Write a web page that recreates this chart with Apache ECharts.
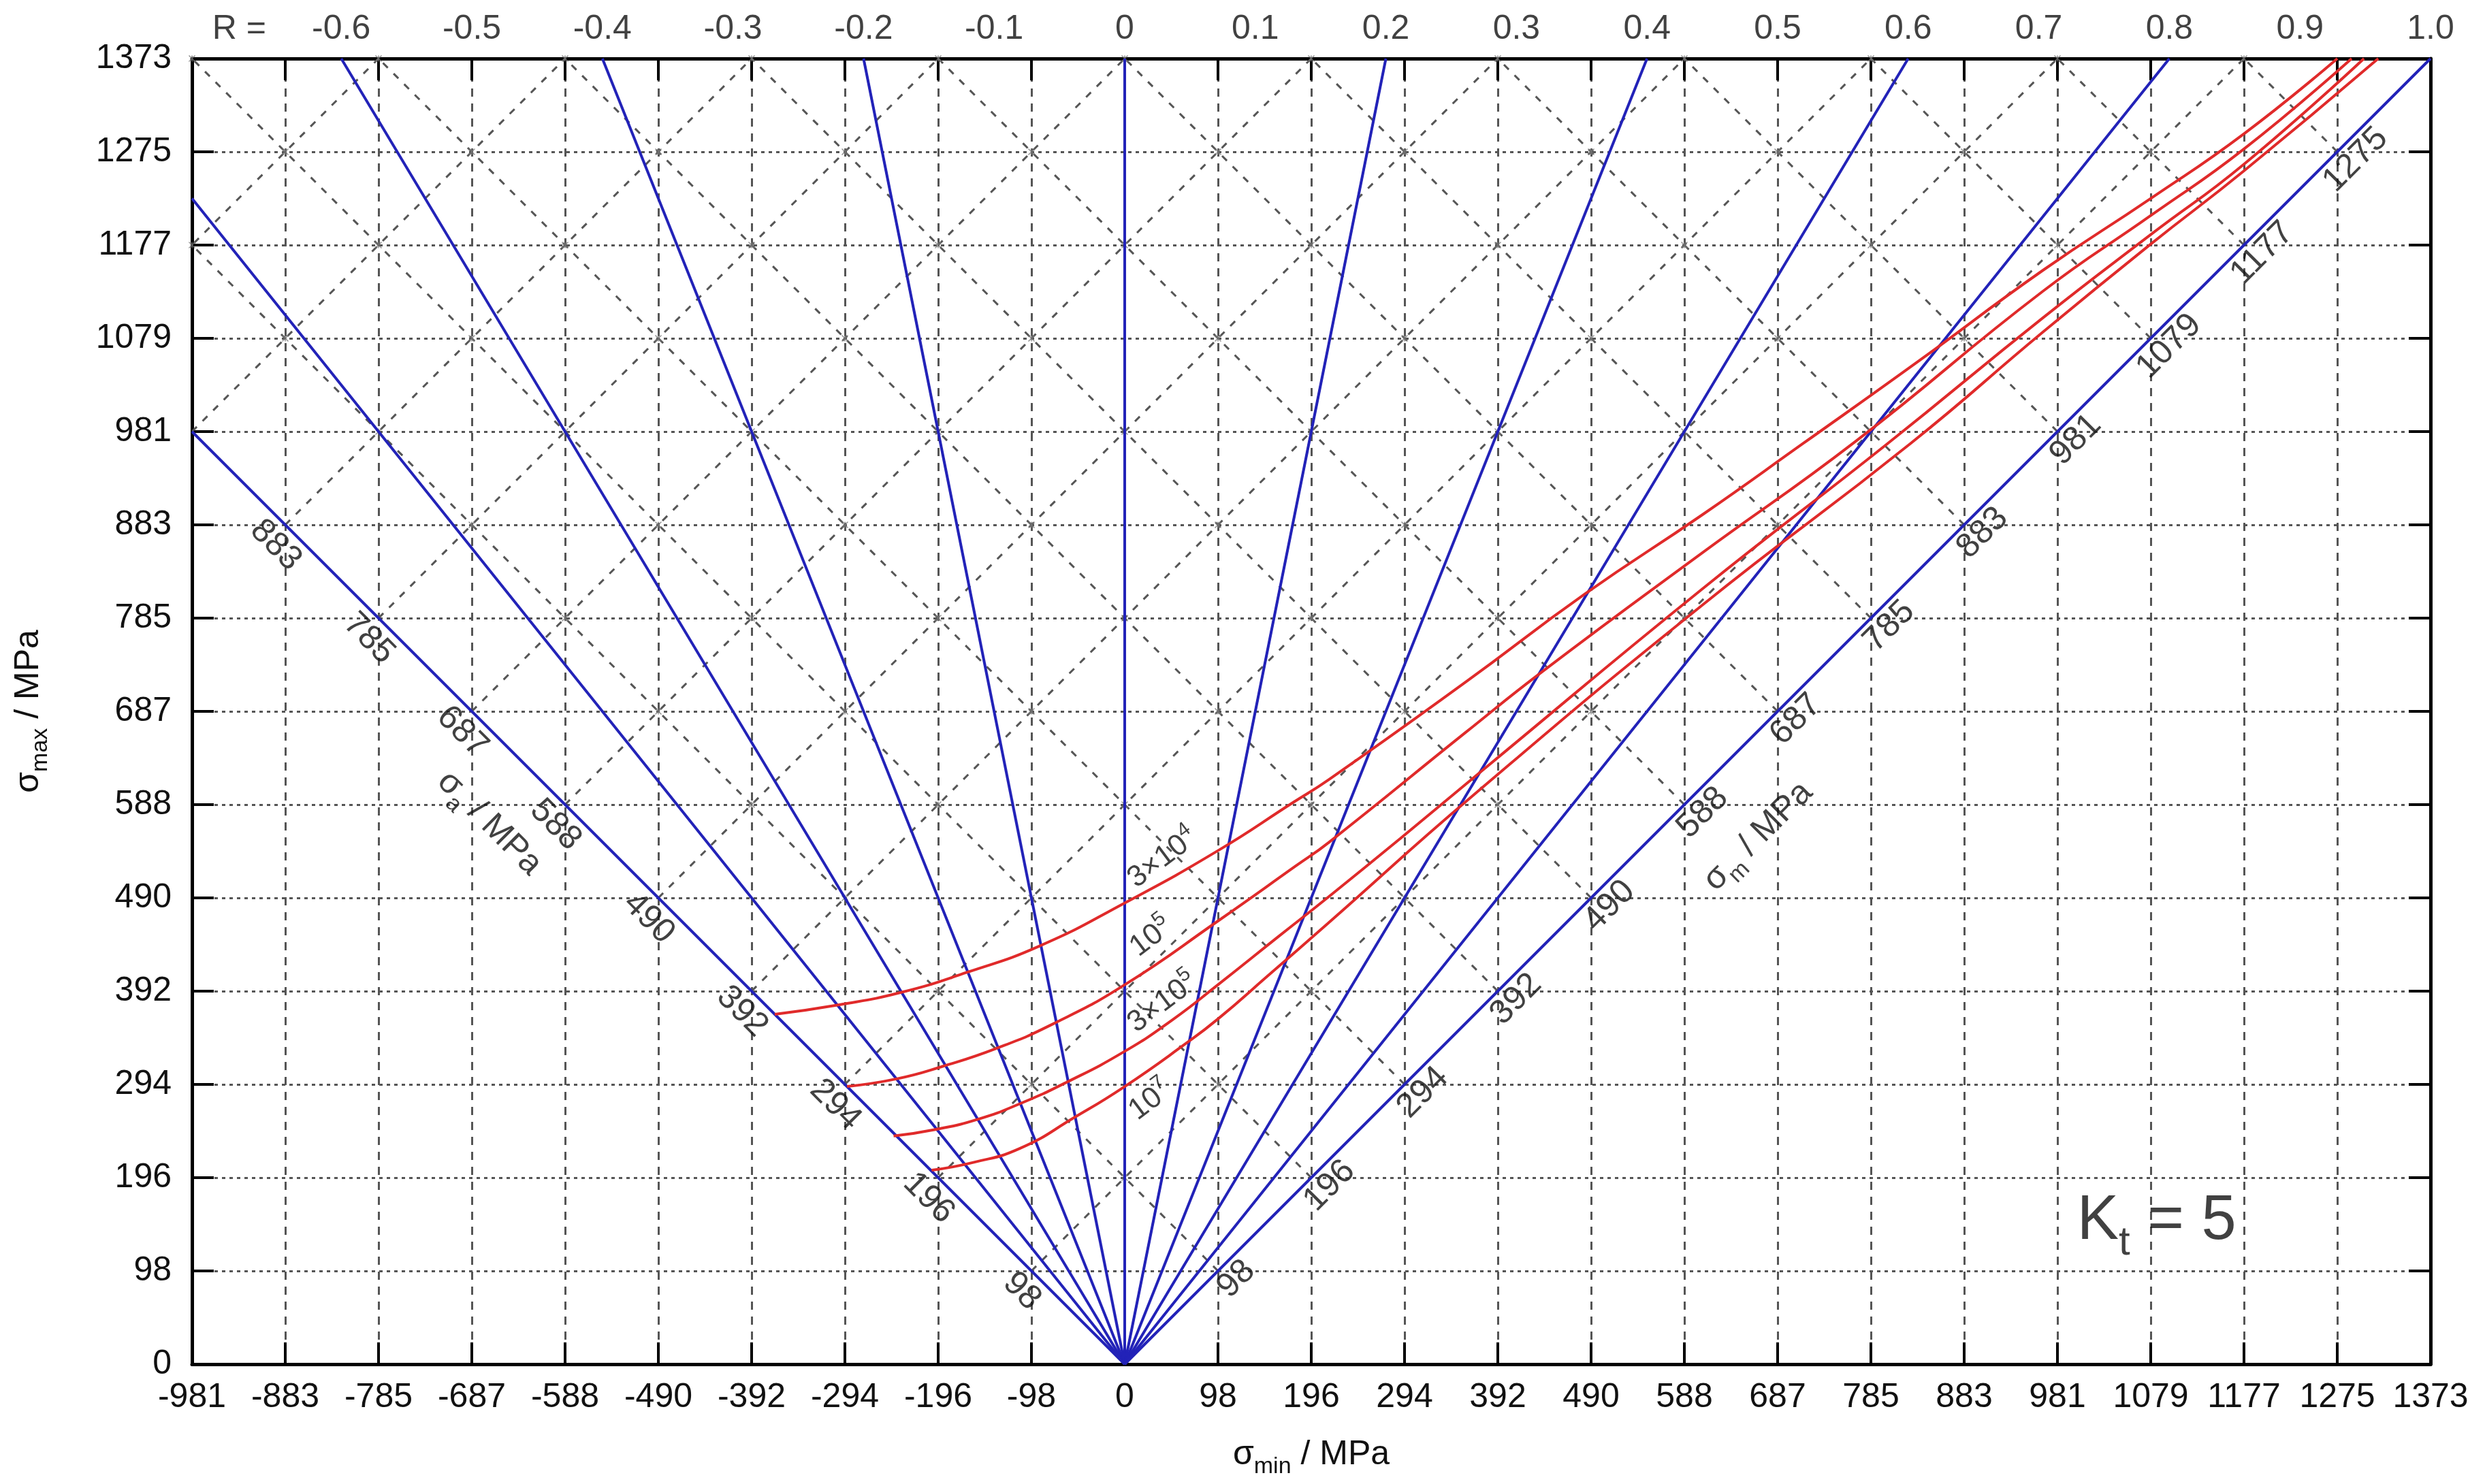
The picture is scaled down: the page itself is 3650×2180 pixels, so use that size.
<!DOCTYPE html>
<html><head><meta charset="utf-8">
<script src="https://cdn.jsdelivr.net/npm/echarts@6/dist/echarts.min.js"></script>
<style>html,body{margin:0;padding:0;background:#fff}#c{width:3650px;height:2180px}</style>
</head><body><div id="c"></div>
<script>
// ---------- data ----------
const STEP = 98.07;
const xTickLabels = ['-981','-883','-785','-687','-588','-490','-392','-294','-196','-98','0','98','196','294','392','490','588','687','785','883','981','1079','1177','1275','1373'];
const yTickLabels = ['0','98','196','294','392','490','588','687','785','883','981','1079','1177','1275','1373'];
const rLines = [-1, -0.8, -0.6, -0.4, -0.2, 0, 0.2, 0.4, 0.6, 0.8, 1.0];
const rTopValues = [-0.6,-0.5,-0.4,-0.3,-0.2,-0.1,0,0.1,0.2,0.3,0.4,0.5,0.6,0.7,0.8,0.9,1.0];
const rTopLabels = ['-0.6','-0.5','-0.4','-0.3','-0.2','-0.1','0','0.1','0.2','0.3','0.4','0.5','0.6','0.7','0.8','0.9','1.0'];
const saLabels = ['98','196','294','392','490','588','687','785','883'];
const smLabels = ['98','196','294','392','490','588','687','785','883','981','1079','1177','1275'];
const curveLabels = ['{b|3×10}{p|4}', '{b|10}{p|5}', '{b|3×10}{p|5}', '{b|10}{p|7}'];
// constant-life curves  [sigma_min, sigma_max]
const n3e4 = [[-368,368],[-300,378],[-235,391],[-166,412],[-89,440],[0,485],[98,540],[176,590],[215,615],[358,717],[484,810],[607,893],[713,968],[835,1055],[965,1150],[1079,1226],[1177,1294],[1275,1373]];
const n1e5 = [[-292,292],[-240,300],[-192,313],[-135,332],[-75,358],[0,399],[98,466],[180,524],[215,549],[358,664],[440,729],[607,853],[768,970],[965,1128],[1079,1208],[1177,1278],[1290,1373]];
const n3e5 = [[-243,240],[-198,247],[-153,258],[-110,274],[-62,296],[0,329],[50,362],[98,399],[162,450],[215,492],[290,553],[378,626],[607,815],[802,968],[965,1100],[1079,1188],[1177,1262],[1303,1373]];
const n1e7 = [[-203,204],[-160,212],[-110,227],[-52,260],[0,292],[64,337],[98,363],[150,408],[213,463],[365,597],[607,798],[826,968],[965,1085],[1079,1178],[1177,1255],[1318,1373]];
const ktText = '{k|K}{t|t}{k| = 5}';

// ---------- layout / style ----------
const S = STEP, XMIN = -10*S, XMAX = 14*S, YMAX = 14*S;
const F = "'Liberation Sans', Arial, Helvetica, sans-serif";
const TXT = '#111';
const richSub = {
  s: {fontSize: 50, lineHeight: 70, fontFamily: F, color: TXT},
  sub: {fontSize: 34, lineHeight: 34, verticalAlign: 'bottom', fontFamily: F, color: TXT}
};
const PX = 1/1.397; // data units per pixel (equal aspect)

function rEnd(R){ const xt = R*YMAX; return (xt >= XMIN) ? [xt, YMAX] : [XMIN, XMIN/R]; }

const series = [];
const dashDiag = {color:'#555', width:3, type:[10,12]};
for (let k = 1; k <= 12; k++) {
  series.push({type:'line', data:[[-k*S, k*S],[YMAX-2*k*S, YMAX]], symbol:'none', silent:true, lineStyle:dashDiag, z:1});
}
for (let m = 1; m <= 13; m++) {
  series.push({type:'line', data:[[m*S, m*S],[2*m*S-YMAX, YMAX]], symbol:'none', silent:true, lineStyle:dashDiag, z:1});
}
// intersection markers
const pts = [];
for (let i = -10; i <= 14; i++) for (let j = 1; j <= 14; j++) {
  if ((i + j) % 2 === 0 && j > Math.abs(i)) pts.push([i*S, j*S]);
}
series.push({type:'scatter', data:pts, symbol:'path://M0,0L10,10M10,0L0,10M5,0L5,10', symbolSize:9,
  itemStyle:{color:'none', borderColor:'#777', borderWidth:1.5}, silent:true, z:2});

rLines.forEach(R => series.push({type:'line', data:[[0,0], rEnd(R)], symbol:'none', silent:true,
  lineStyle:{color:'#2222b8', width:4}, z:3}));

[n3e4, n1e5, n3e5, n1e7].forEach(d => series.push({type:'line', data:d, symbol:'none', smooth:0.5, silent:true,
  lineStyle:{color:'#e02a2a', width:4}, z:4}));

function labelSeries(items, label){
  return {type:'scatter', data:items, symbolSize:1, itemStyle:{color:'rgba(0,0,0,0)'}, clip:false, silent:true, z:6,
    label:Object.assign({show:true, position:'inside', formatter:'{b}', color:TXT, fontFamily:F, fontSize:50}, label)};
}
// sigma_a labels along R=-1
series.push(labelSeries(saLabels.map((t,i)=>{const k=i+1; return {name:t, value:[-k*S-14*PX, k*S-30*PX]};}), {rotate:-45}));
// sigma_m labels along R=1
series.push(labelSeries(smLabels.map((t,i)=>{const m=i+1; return {name:t, value:[m*S+27*PX, m*S-12*PX]};}), {rotate:45}));
// titles along diagonals
series.push(labelSeries([{name:'sa', value:[-668,569]}], {rotate:-45, formatter:'{s|σ}{sub|a}{s| / MPa}', rich:richSub}));
series.push(labelSeries([{name:'sm', value:[666,555]}], {rotate:45, formatter:'{s|σ}{sub|m}{s| / MPa}', rich:richSub}));
// R labels on top
series.push(labelSeries(rTopValues.map((r,i)=>({name:rTopLabels[i], value:[r*YMAX, YMAX]})), {position:'top', distance:17}));
series.push(labelSeries([{name:'R =', value:[-931, YMAX]}], {position:'top', distance:17}));
// curve labels
const curvePos = [[40,532],[28,449],[40,380],[27,277]];
series.push(labelSeries(curveLabels.map((t,i)=>({name:t, value:curvePos[i]})), {rotate:37, formatter:p=>p.name,
  rich:{b:{fontSize:44, lineHeight:58, fontFamily:F, color:TXT}, p:{fontSize:30, lineHeight:30, verticalAlign:'top', fontFamily:F, color:TXT}}}));
// Kt
series.push(labelSeries([{name:'kt', value:[1085,150]}], {formatter:ktText,
  rich:{k:{fontSize:92, lineHeight:124, fontFamily:F, color:TXT}, t:{fontSize:60, lineHeight:60, verticalAlign:'bottom', fontFamily:F, color:TXT}}}));

const axisLine = {show:true, onZero:false, lineStyle:{color:'#000', width:5}};
const tick = {show:true, inside:true, length:32, lineStyle:{color:'#000', width:4}};
const option = {
  backgroundColor:'#fff',
  animation:false,
  grid:{left:282, top:86, width:3288, height:1918},
  xAxis:[
    {type:'value', position:'bottom', min:XMIN, max:XMAX, interval:S, axisLine, axisTick:tick,
     axisLabel:{margin:24, fontSize:50, color:TXT, fontFamily:F, formatter:v=>xTickLabels[Math.round(v/S)+10] ?? ''},
     splitLine:{show:true, lineStyle:{color:'#555', width:3, type:[12,10]}},
     name:'{s|σ}{sub|min}{s| / MPa}', nameLocation:'middle', nameGap:98, nameTextStyle:{rich:richSub}},
    {type:'value', position:'top', min:XMIN, max:XMAX, interval:S, axisLine, axisTick:tick,
     axisLabel:{show:false}, splitLine:{show:false}}
  ],
  yAxis:[
    {type:'value', position:'left', min:0, max:YMAX, interval:S, axisLine, axisTick:tick,
     axisLabel:{margin:30, fontSize:50, color:TXT, fontFamily:F, formatter:v=>yTickLabels[Math.round(v/S)] ?? ''},
     splitLine:{show:true, lineStyle:{color:'#555', width:3, type:[5,6]}},
     name:'{s|σ}{sub|max}{s| / MPa}', nameLocation:'middle', nameGap:205, nameRotate:90, nameTextStyle:{rich:richSub}},
    {type:'value', position:'right', min:0, max:YMAX, interval:S, axisLine, axisTick:tick,
     axisLabel:{show:false}, splitLine:{show:false}}
  ],
  series: series
};
const chart = echarts.init(document.getElementById('c'));
chart.setOption(option);
</script>
</body></html>
